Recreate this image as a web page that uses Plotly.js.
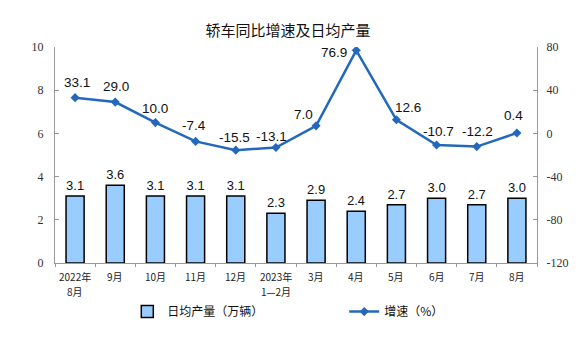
<!DOCTYPE html>
<html>
<head>
<meta charset="utf-8">
<script src="https://cdn.plot.ly/plotly-3.0.1.min.js"></script>
<style>html,body{margin:0;padding:0;background:#fff;}#chart{width:576px;height:357px;}</style>
</head>
<body>
<div id="chart"></div>
<script>
const categories = ["2022年<br>8月","9月","10月","11月","12月","2023年<br>1—2月","3月","4月","5月","6月","7月","8月"];
const dailyOutput = [3.1,3.6,3.1,3.1,3.1,2.3,2.9,2.4,2.7,3.0,2.7,3.0];
const growth = [33.1,29.0,10.0,-7.4,-15.5,-13.1,7.0,76.9,12.6,-10.7,-12.2,0.4];
const barLabels = ["3.1","3.6","3.1","3.1","3.1","2.3","2.9","2.4","2.7","3.0","2.7","3.0"];
const lineLabels = ["33.1","29.0","10.0","-7.4","-15.5","-13.1","7.0","76.9","12.6","-10.7","-12.2","0.4"];
const leftTicks = [0,2,4,6,8,10];
const rightTicks = [-120,-80,-40,0,40,80];

// label placement offsets (px)
const lblDx = [2,1,0,-2,-1,-4,-13,-22,12,2,1,-3];
const lblDy = [15,16,14,16,13,11,11,-2,12,13,15,17];

const blue = '#2468bd';
const tickFont = {family:'"Liberation Serif", "DejaVu Serif", serif', size:12, color:'#333'};
const labelFont = {family:'"Liberation Sans", Arial, sans-serif', size:13.5, color:'#111'};
const cjk = '"Noto Sans CJK SC", sans-serif';

const traces = [
  {
    type:'bar', name:'日均产量（万辆）',
    x: categories, y: dailyOutput,
    text: barLabels, textposition:'outside', textfont: labelFont, cliponaxis:false,
    marker:{color:'#99ccff', line:{color:'#000', width:1.5}},
    width:0.45, yaxis:'y', hoverinfo:'none', legend:'legend'
  },
  {
    type:'scatter', mode:'lines+markers', name:'增速（%）',
    x: categories, y: growth, yaxis:'y2',
    line:{color:blue, width:2.5},
    marker:{symbol:'diamond', size:7, color:blue},
    hoverinfo:'none', legend:'legend2'
  }
];

const annotations = growth.map((v,i)=>({
  x: categories[i], y: v, xref:'x', yref:'y2',
  text: lineLabels[i], showarrow:false,
  xshift: lblDx[i], yshift: lblDy[i],
  xanchor:'center', yanchor:'middle',
  font: labelFont
}));

// category tick labels, one annotation per text line
categories.forEach((c)=>{
  c.split('<br>').forEach((line,k)=>{
    annotations.push({
      x: c, y: 0, xref:'x', yref:'paper', text: line, showarrow:false,
      xanchor:'center', yanchor:'top', yshift: -5 - 15*k, borderpad:0,
      font:{family:cjk, size:10, color:'#222'}
    });
  });
});

const legendFont = {family:cjk, size:12, color:'#111'};

const layout = {
  width:576, height:357,
  margin:{l:55, r:39, t:47, b:94},
  paper_bgcolor:'#fff', plot_bgcolor:'#fff',
  title:{text:'轿车同比增速及日均产量', font:{family:cjk, size:15, color:'#111'}, x:0.5, xanchor:'center', y:0.915, yref:'container', yanchor:'middle'},
  showlegend:true,
  legend:{orientation:'h', x:0.15, xanchor:'left', y:-0.225, yanchor:'middle', font:legendFont, bgcolor:'rgba(0,0,0,0)'},
  legend2:{orientation:'h', x:0.6, xanchor:'left', y:-0.225, yanchor:'middle', font:legendFont, bgcolor:'rgba(0,0,0,0)'},
  xaxis:{
    type:'category', showline:true, linecolor:'#999', linewidth:1,
    ticks:'outside', ticklen:3, tickcolor:'#999', tickson:'boundaries', tickangle:0,
    showticklabels:false, showgrid:false, zeroline:false,
    range:[-0.5, 11.5]
  },
  yaxis:{
    range:[0,10], tickvals:leftTicks, ticktext:leftTicks.map(String),
    showline:true, linecolor:'#999', linewidth:1, ticks:'inside', ticklen:4, tickcolor:'#999',
    showgrid:false, zeroline:false, tickfont:tickFont, ticklabelstandoff:8
  },
  yaxis2:{
    range:[-120,80], overlaying:'y', side:'right', tickvals:rightTicks, ticktext:rightTicks.map(String),
    showline:true, linecolor:'#999', linewidth:1, ticks:'inside', ticklen:4, tickcolor:'#999',
    showgrid:false, zeroline:false, tickfont:tickFont, ticklabelstandoff:6
  },
  annotations: annotations
};

Plotly.newPlot('chart', traces, layout, {staticPlot:true, displayModeBar:false});
</script>
</body>
</html>
